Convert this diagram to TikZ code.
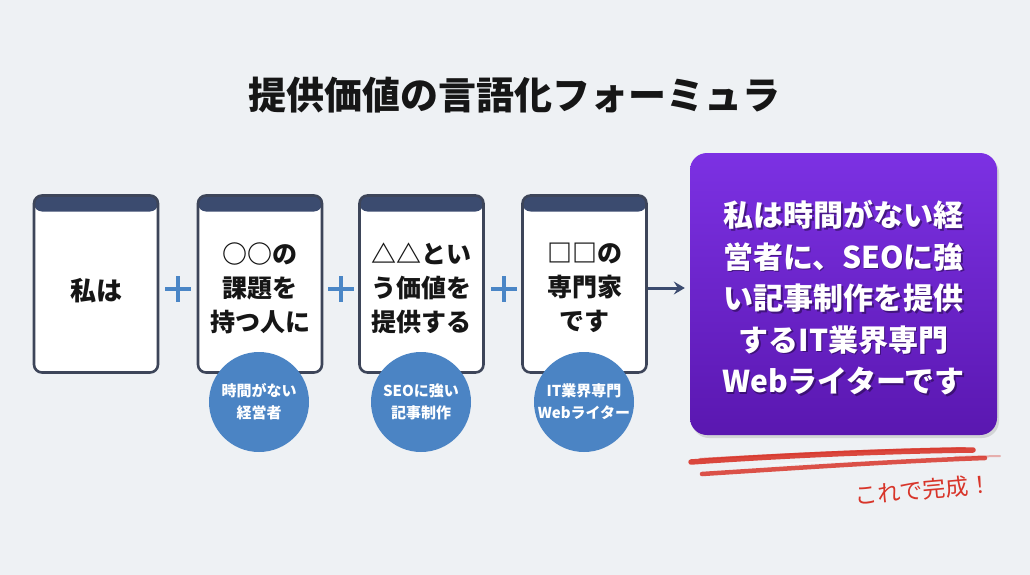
\documentclass[tikz,border=0pt]{standalone}
\usepackage{fontspec}
\setmainfont{Noto Sans CJK JP}
\usetikzlibrary{arrows.meta,shadows}
\definecolor{bg}{HTML}{EEF1F4}
\definecolor{cardline}{HTML}{3D4559}
\definecolor{cardhead}{HTML}{3B4B6F}
\definecolor{circblue}{HTML}{4B84C4}
\definecolor{plusblue}{HTML}{4A86C6}
\definecolor{purpT}{HTML}{7C31E3}
\definecolor{purpB}{HTML}{5A17B0}
\definecolor{brushred}{HTML}{D8352A}
\definecolor{inktext}{HTML}{161616}
\tikzset{
  card/.style={draw=cardline, line width=2.6pt, fill=white, rounded corners=8pt,
    minimum width=124pt, minimum height=177pt, inner sep=0pt,
    path picture={\fill[cardhead] (path picture bounding box.north west) rectangle ([yshift=-16pt]path picture bounding box.north east);}},
  cardtext/.style={align=center, text=inktext, font=\fontsize{25}{34}\selectfont\bfseries},
  circ/.style={circle, fill=circblue, minimum size=100pt, inner sep=0pt, align=center,
    text=white, font=\fontsize{15}{22}\selectfont\bfseries},
  plusnode/.style={minimum size=25pt, inner sep=0pt},
  plusline/.style={draw=plusblue, line width=4.5pt},
  arr/.style={draw=cardhead, line width=3pt, -{Stealth[length=11pt,width=13pt,inset=4pt]}},
  resbox/.style={rounded corners=17pt, top color=purpT, bottom color=purpB, draw=none,
    minimum width=307pt, minimum height=282pt, inner sep=0pt,
    drop shadow={opacity=0.25, shadow xshift=2pt, shadow yshift=-3pt}},
  restext/.style={align=center, text=white, font=\fontsize{30}{41.5}\selectfont\bfseries},
  brush/.style={draw=brushred, line cap=round},
}
\begin{document}
\begin{tikzpicture}[x=1pt,y=-1pt]
\fill[bg] (0,0) rectangle (1030,575);
\useasboundingbox (0,0) rectangle (1030,575);

\node[font=\fontsize{38}{44}\selectfont\bfseries, text=inktext] (title) at (514,95) {提供価値の言語化フォーミュラ};

% cards
\node[card] (c1) at (96,284) {};
\node[card] (c2) at (260,284) {};
\node[card] (c3) at (421.5,284) {};
\node[card] (c4) at (584.5,284) {};

\node[cardtext, font=\fontsize{26}{34}\selectfont\bfseries] (t1) at (96,291) {私は};
\node[cardtext] (t2) at (260,288) {○○の\\課題を\\持つ人に};
\node[cardtext] (t3) at (421.5,288) {△△とい\\う価値を\\提供する};
\node[cardtext] (t4) at (584.5,288) {□□の\\専門家\\です};

% circles
\node[circ] (k2) at (259,402) {時間がない\\経営者};
\node[circ] (k3) at (421,402) {SEOに強い\\記事制作};
\node[circ] (k4) at (584,402) {IT業界専門\\Webライター};

% plus signs
\foreach \n/\x in {p1/178, p2/341, p3/504}{
  \node[plusnode] (\n) at (\x,289) {};
  \draw[plusline] (\n.north) -- (\n.south);
  \draw[plusline] (\n.west) -- (\n.east);
}

% result box
\node[resbox] (res) at (843.5,294) {};
\node[restext, text=black!70!purpB, opacity=0.5] (resshadow) at (845,299.5) {私は時間がない経\\営者に、SEOに強\\い記事制作を提供\\するIT業界専門\\Webライターです};
\node[restext] (rest) at (843.5,298) {私は時間がない経\\営者に、SEOに強\\い記事制作を提供\\するIT業界専門\\Webライターです};

% arrow
\draw[arr] ([yshift=-4pt]c4.east) -- ([xshift=-5pt,yshift=6pt]res.west);

% red brush strokes
\draw[brush, line width=5.5pt, opacity=0.9] (691,462) .. controls (790,455) and (890,451) .. (973,450);
\draw[brush, line width=2pt, opacity=0.6] (700,459) .. controls (800,453) and (900,449) .. (965,448);
\draw[brush, line width=4.5pt, opacity=0.85] (702,474) .. controls (810,467) and (900,461) .. (985,458);
\draw[brush, line width=2pt, opacity=0.35] (955,457) -- (1000,456);
\draw[brush, line width=1.2pt, opacity=0.55, draw=white] (770,465) .. controls (820,462) and (860,460) .. (890,459);

\node[text=brushred, font=\fontsize{23}{26}\selectfont, rotate=5] (done) at (923,490) {これで完成！};
\end{tikzpicture}
\end{document}
